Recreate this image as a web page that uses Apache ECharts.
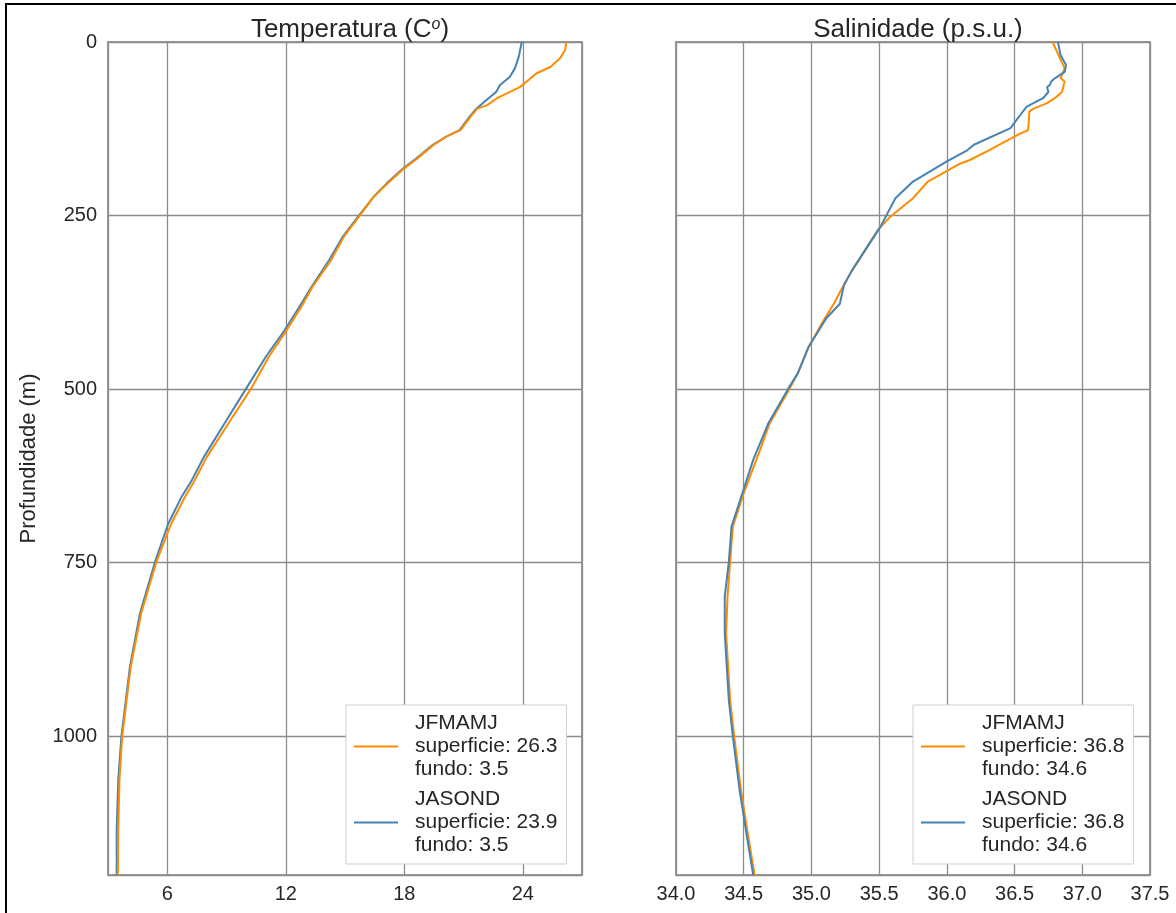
<!DOCTYPE html>
<html>
<head>
<meta charset="utf-8">
<script src="https://cdn.jsdelivr.net/npm/echarts@6/dist/echarts.min.js"></script>
<style>
html, body { margin: 0; padding: 0; background: #fff; }
#c { width: 1176px; height: 913px; }
#frame { position: fixed; left: 5px; top: 3px; right: 0; bottom: 0; border-left: 2px solid #000; border-top: 2px solid #000; pointer-events: none; }
</style>
</head>
<body>
<div id="c"></div>
<div id="frame"></div>
<script>
// ---- data ----
const seasons = ['JFMAMJ', 'JASOND'];
const seasonColors = ['#ff8c00', '#4682b4'];

const depthTempJFMAMJ = [0, 11, 23, 36, 45, 57, 65, 74, 81, 91, 96, 108, 127, 136, 148, 168, 182, 204, 223, 252, 280, 314, 353, 381, 415, 453, 499, 545, 598, 631, 655, 694, 749, 823, 900, 1000, 1063, 1135, 1200];
const tempJFMAMJ = [26.2, 26.15, 25.9, 25.4, 24.7, 24.2, 23.85, 23.2, 22.7, 22.2, 21.7, 21.35, 20.85, 20.15, 19.5, 18.65, 18.0, 17.15, 16.45, 15.7, 14.95, 14.3, 13.35, 12.8, 12.05, 11.15, 10.25, 9.2, 8.0, 7.4, 6.9, 6.2, 5.45, 4.68, 4.15, 3.72, 3.58, 3.52, 3.5];

const depthTempJASOND = [0, 21, 38, 50, 62, 72, 84, 96, 108, 127, 136, 148, 168, 182, 204, 223, 252, 280, 314, 353, 381, 415, 453, 499, 545, 598, 631, 655, 694, 749, 823, 900, 1000, 1063, 1135, 1200];
const tempJASOND = [23.95, 23.8, 23.6, 23.35, 22.85, 22.65, 22.15, 21.65, 21.3, 20.8, 20.15, 19.45, 18.6, 17.95, 17.1, 16.45, 15.65, 14.9, 14.2, 13.3, 12.7, 11.95, 11.0, 10.0, 9.0, 7.85, 7.25, 6.73, 6.05, 5.38, 4.62, 4.11, 3.68, 3.52, 3.44, 3.44];

const depthSalJFMAMJ = [0, 21, 38, 52, 57, 72, 79, 88, 96, 100, 127, 134, 156, 170, 175, 201, 225, 252, 271, 329, 357, 379, 401, 439, 477, 499, 550, 588, 650, 698, 749, 800, 852, 948, 1001, 1078, 1140, 1200];
const salJFMAMJ = [36.78, 36.83, 36.87, 36.84, 36.87, 36.85, 36.81, 36.74, 36.64, 36.61, 36.6, 36.52, 36.31, 36.17, 36.1, 35.86, 35.75, 35.58, 35.49, 35.3, 35.22, 35.16, 35.09, 34.98, 34.9, 34.84, 34.69, 34.62, 34.5, 34.42, 34.4, 34.38, 34.37, 34.4, 34.43, 34.48, 34.53, 34.58];

const depthSalJASOND = [0, 19, 33, 43, 52, 57, 62, 65, 72, 81, 93, 103, 124, 148, 156, 172, 201, 225, 266, 329, 350, 377, 398, 439, 477, 499, 550, 602, 650, 698, 749, 799, 852, 948, 1001, 1078, 1140, 1200];
const salJASOND = [36.82, 36.84, 36.88, 36.87, 36.8, 36.77, 36.76, 36.74, 36.75, 36.71, 36.59, 36.55, 36.47, 36.2, 36.15, 36.0, 35.75, 35.62, 35.51, 35.3, 35.24, 35.21, 35.11, 34.98, 34.9, 34.83, 34.68, 34.57, 34.49, 34.41, 34.39, 34.36, 34.36, 34.39, 34.42, 34.47, 34.52, 34.57];

const surfaceTemp = [26.3, 23.9];
const bottomTemp = [3.5, 3.5];
const surfaceSal = [36.8, 36.8];
const bottomSal = [34.6, 34.6];

const depthTicks = [0, 250, 500, 750, 1000];
const tempTicks = [6, 12, 18, 24];
const salTicks = [34.0, 34.5, 35.0, 35.5, 36.0, 36.5, 37.0, 37.5];

// ---- chart ----
const FONT = '"Liberation Sans", Arial, sans-serif';
const TXT = '#262626';
const GRIDC = '#8c8c8c';

function pairs(vals, depths) { return vals.map((v, i) => [v, depths[i]]); }

const tempSeries = [[tempJFMAMJ, depthTempJFMAMJ], [tempJASOND, depthTempJASOND]];
const salSeries = [[salJFMAMJ, depthSalJFMAMJ], [salJASOND, depthSalJASOND]];

const series = [];
seasons.forEach((s, i) => {
  series.push({
    type: 'line', name: 'T-' + s, xAxisIndex: 0, yAxisIndex: 0,
    data: pairs(tempSeries[i][0], tempSeries[i][1]),
    symbol: 'none', color: seasonColors[i],
    lineStyle: { width: 2, color: seasonColors[i] }, z: 3 + (1 - i)
  });
});
seasons.forEach((s, i) => {
  series.push({
    type: 'line', name: 'S-' + s, xAxisIndex: 1, yAxisIndex: 1,
    data: pairs(salSeries[i][0], salSeries[i][1]),
    symbol: 'none', color: seasonColors[i],
    lineStyle: { width: 2, color: seasonColors[i] }, z: 3 + i
  });
});

function legendText(name) {
  const kind = name.slice(0, 1);
  const s = name.slice(2);
  const i = seasons.indexOf(s);
  const sup = kind === 'T' ? surfaceTemp[i] : surfaceSal[i];
  const bot = kind === 'T' ? bottomTemp[i] : bottomSal[i];
  return s + '\nsuperficie: ' + sup.toFixed(1) + '\nfundo: ' + bot.toFixed(1);
}

const legendCommon = {
  orient: 'vertical', top: 705,
  backgroundColor: '#fff', borderColor: '#cfcfcf', borderWidth: 1, borderRadius: 0,
  padding: [7, 9, 7, 8], itemGap: 7, itemWidth: 44, itemHeight: 2, icon: 'rect',
  formatter: legendText,
  textStyle: { fontFamily: FONT, fontSize: 21, lineHeight: 23, color: TXT, padding: [0, 0, 0, 12] }
};

const gridTop = 42, gridH = 833;

function yAxisDef(gi, showLabels) {
  return {
    type: 'value', gridIndex: gi, inverse: true, min: 0, max: 1200, interval: 250,
    name: showLabels ? 'Profundidade (m)' : '', nameLocation: 'middle', nameGap: 68,
    nameTextStyle: { fontFamily: FONT, fontSize: 22, color: TXT },
    axisLine: { show: false }, axisTick: { show: false },
    axisLabel: { show: showLabels, showMaxLabel: false, fontFamily: FONT, fontSize: 20, color: TXT, margin: 11,
      formatter: v => String(v) },
    splitLine: { show: true, lineStyle: { color: GRIDC, width: 1.3 } }
  };
}

const option = {
  backgroundColor: '#fff',
  animation: false,
  title: [
    { text: 'Temperatura (C{sup|o})', left: 345, top: 12, textAlign: 'center',
      textStyle: { fontFamily: FONT, fontSize: 26, fontWeight: 'normal', color: TXT,
        rich: { sup: { fontFamily: FONT, fontSize: 16, fontStyle: 'italic', color: TXT, verticalAlign: 'top', lineHeight: 18 } } } },
    { text: 'Salinidade (p.s.u.)', left: 913, top: 12, textAlign: 'center',
      textStyle: { fontFamily: FONT, fontSize: 26, fontWeight: 'normal', color: TXT } }
  ],
  grid: [
    { left: 108, top: gridTop, width: 474, height: gridH, show: true, borderColor: '#9a9a9a', borderWidth: 2, backgroundColor: '#fff' },
    { left: 676, top: gridTop, width: 474, height: gridH, show: true, borderColor: '#9a9a9a', borderWidth: 2, backgroundColor: '#fff' }
  ],
  xAxis: [
    { type: 'value', gridIndex: 0, min: 3, max: 27, minInterval: 6, maxInterval: 6,
      axisLine: { show: false }, axisTick: { show: false },
      axisLabel: { showMinLabel: false, showMaxLabel: false, fontFamily: FONT, fontSize: 20, color: TXT, margin: 9 },
      splitLine: { show: true, lineStyle: { color: GRIDC, width: 1.3 } } },
    { type: 'value', gridIndex: 1, min: 34, max: 37.5, interval: 0.5,
      axisLine: { show: false }, axisTick: { show: false },
      axisLabel: { fontFamily: FONT, fontSize: 20, color: TXT, margin: 9, formatter: v => v.toFixed(1) },
      splitLine: { show: true, lineStyle: { color: GRIDC, width: 1.3 } } }
  ],
  yAxis: [yAxisDef(0, true), yAxisDef(1, false)],
  legend: [
    Object.assign({}, legendCommon, { left: 346, data: seasons.map(s => 'T-' + s) }),
    Object.assign({}, legendCommon, { left: 913, data: seasons.map(s => 'S-' + s) })
  ],
  series: series
};

const chart = echarts.init(document.getElementById('c'), null, { renderer: 'canvas' });
chart.setOption(option);
</script>
</body>
</html>
